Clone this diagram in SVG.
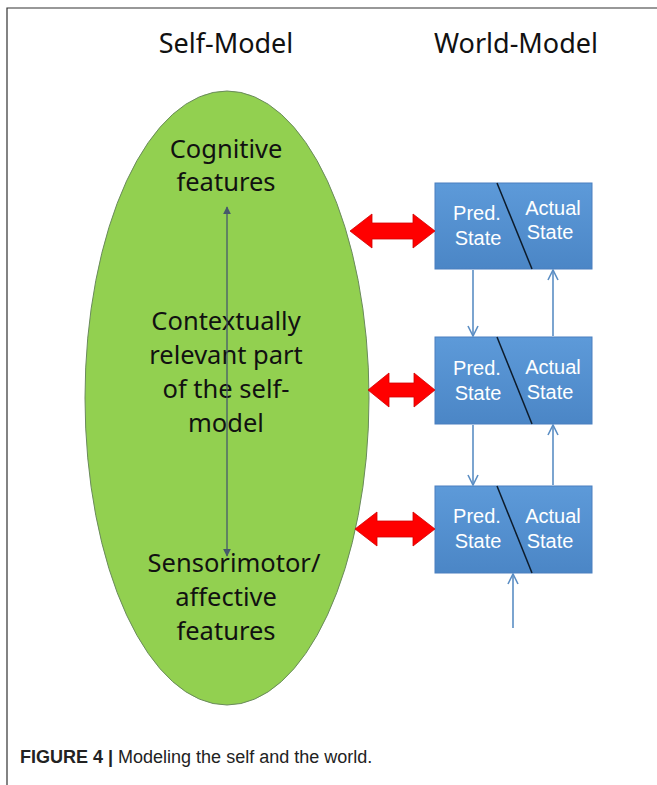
<svg xmlns="http://www.w3.org/2000/svg" width="657" height="785" viewBox="0 0 657 785">
<style>
.title{font-family:"Noto Sans","DejaVu Sans",sans-serif;font-size:27px;fill:#111;text-anchor:middle}
.ell{font-family:"Noto Sans","DejaVu Sans",sans-serif;font-size:25.5px;fill:#111;text-anchor:middle}
.bt{font-family:"Liberation Sans",Arial,sans-serif;font-size:20px;fill:#fff;text-anchor:middle}
.box{fill:url(#bg);stroke:#4a7fbf;stroke-width:1}
.diag{stroke:#0d1b2a;stroke-width:1.5}
.red{fill:#ff0000;stroke:#d00000;stroke-width:0.8}
.conn{stroke:#5b8ec4;stroke-width:1.6;fill:none}
.cap{font-family:"Liberation Sans",Arial,sans-serif;font-size:18px;fill:#222}
</style>
<defs>
<linearGradient id="bg" x1="0" y1="0" x2="0" y2="1">
<stop offset="0" stop-color="#5d9ad9"/>
<stop offset="1" stop-color="#4b86c6"/>
</linearGradient>
<marker id="chev" viewBox="0 0 12 12" refX="11" refY="6" markerWidth="12" markerHeight="12" markerUnits="userSpaceOnUse" orient="auto">
<path d="M1,1 L11,6 L1,11" fill="none" stroke="#5b8ec4" stroke-width="1.6"/>
</marker>
<marker id="tri" viewBox="0 0 10 10" refX="9" refY="5" markerWidth="8" markerHeight="8" markerUnits="userSpaceOnUse" orient="auto-start-reverse">
<path d="M0,0 L10,5 L0,10 z" fill="#46596b"/>
</marker>
</defs>
<rect width="657" height="785" fill="#fff"/>
<path d="M7,785 L7,8 L657,8" fill="none" stroke="#333" stroke-width="1.2"/>

<text class="title" x="226" y="53">Self-Model</text>
<text class="title" x="516" y="53">World-Model</text>

<g id="self-model">
<ellipse cx="227" cy="398" rx="142" ry="307" fill="#92d050" stroke="#6a8a5c" stroke-width="1"/>
<text class="ell" x="226" y="158">Cognitive</text>
<text class="ell" x="226" y="191">features</text>
<text class="ell" x="226" y="330">Contextually</text>
<text class="ell" x="226" y="364">relevant part</text>
<text class="ell" x="226" y="398">of the self-</text>
<text class="ell" x="226" y="432">model</text>
<text class="ell" x="234" y="572">Sensorimotor/</text>
<text class="ell" x="226" y="606">affective</text>
<text class="ell" x="226" y="640">features</text>
</g>

<g id="state1">
<rect class="box" x="435" y="183" width="157" height="86"/>
<line class="diag" x1="497" y1="183" x2="532" y2="269"/>
<text class="bt" x="477" y="220">Pred.</text>
<text class="bt" x="478" y="245">State</text>
<text class="bt" x="553" y="215">Actual</text>
<text class="bt" x="550" y="239">State</text>
</g>
<g id="state2">
<rect class="box" x="435" y="337" width="157" height="87"/>
<line class="diag" x1="497" y1="337" x2="532" y2="424"/>
<text class="bt" x="477" y="375">Pred.</text>
<text class="bt" x="478" y="400">State</text>
<text class="bt" x="553" y="374">Actual</text>
<text class="bt" x="550" y="399">State</text>
</g>
<g id="state3">
<rect class="box" x="435" y="486" width="157" height="87"/>
<line class="diag" x1="497" y1="486" x2="532" y2="573"/>
<text class="bt" x="477" y="523">Pred.</text>
<text class="bt" x="478" y="548">State</text>
<text class="bt" x="553" y="523">Actual</text>
<text class="bt" x="550" y="548">State</text>
</g>

<g id="connectors">
<line x1="227" y1="207" x2="227" y2="556" stroke="#46596b" stroke-width="1.3" marker-start="url(#tri)" marker-end="url(#tri)"/>
<polygon class="red" points="350,231 372,214 372,223 413,223 413,214 435,231 413,248 413,239 372,239 372,248"/>
<polygon class="red" points="368,390 389,373 389,383 414,383 414,373 435,390 414,407 414,397 389,397 389,407"/>
<polygon class="red" points="355,529 377,512 377,521 413,521 413,512 435,529 413,546 413,537 377,537 377,546"/>
<line class="conn" x1="473" y1="270" x2="473" y2="336" marker-end="url(#chev)"/>
<line class="conn" x1="553" y1="336" x2="553" y2="270" marker-end="url(#chev)"/>
<line class="conn" x1="473" y1="425" x2="473" y2="485" marker-end="url(#chev)"/>
<line class="conn" x1="553" y1="485" x2="553" y2="425" marker-end="url(#chev)"/>
<line class="conn" x1="513" y1="628" x2="513" y2="574" marker-end="url(#chev)"/>
</g>

<text class="cap" x="20" y="763"><tspan font-weight="bold">FIGURE 4 |</tspan> Modeling the self and the world.</text>
</svg>
